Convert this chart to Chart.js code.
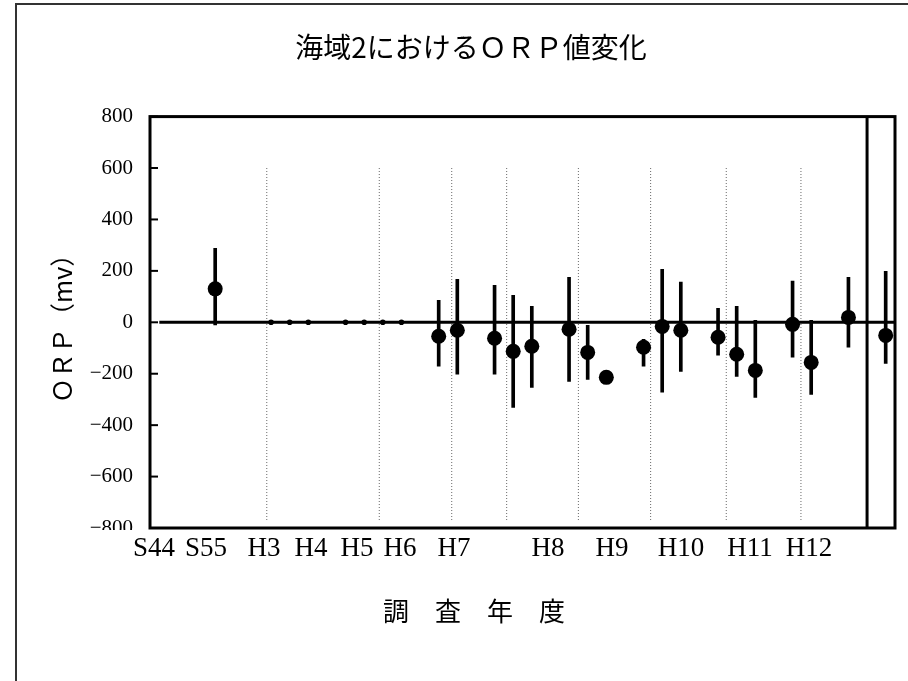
<!DOCTYPE html>
<html>
<head>
<meta charset="utf-8">
<script src="https://cdn.jsdelivr.net/npm/chart.js@4/dist/chart.umd.min.js"></script>
<style>
  html, body { margin: 0; padding: 0; background: #fff; width: 908px; height: 681px; overflow: hidden; }
  #frame { position: absolute; left: 15px; top: 3px; width: 1000px; height: 1000px;
           border-left: 2px solid #333; border-top: 2px solid #333; }
  #c { position: absolute; left: 47px; top: 5px; display: block; }
</style>
</head>
<body>
<div id="frame"></div>
<canvas id="c" width="861" height="676"></canvas>
<script>
// Survey slot (x index) of each measurement, its mean ORP and the ends of its range (mV)
const slots   = [3, 15, 16, 18, 19, 20, 22, 23, 24, 26, 27, 28, 30, 31, 32, 34, 35, 37, 39];
const orpMean = [130, -54, -31, -62, -113, -93, -27, -117, -214, -97, -16, -31, -58, -124, -187, -8, -156, 19, -51];
const orpHigh = [288, 85, 167, 144, 105, 62, 175, -12, null, -66, 206, 156, 54, 62, 8, 160, 8, 175, 198];
const orpLow  = [-10, -171, -202, -202, -331, -253, -230, -222, null, -171, -272, -191, -128, -210, -292, -136, -280, -97, -160];

// Slots without a measured range, marked at zero
const zeroSlots  = [6, 7, 8, 10, 11, 12, 13];
const zeroValues = [0, 0, 0, 0, 0, 0, 0];

// Dividers between survey years and the closing divider
const yearBreaks = [5.77, 11.81, 15.7, 18.65, 22.5, 26.38, 30.44, 34.45];
const breakTop = 600, breakBottom = -770;
const closingSlot = 38;

// Year labels along the bottom and where each one sits
const yearLabels = ['S44', 'S55', 'H3', 'H4', 'H5', 'H6', 'H7', 'H8', 'H9', 'H10', 'H11', 'H12'];
const yearLabelAt = [-0.29, 2.51, 5.62, 8.14, 10.61, 12.92, 15.82, 20.87, 24.31, 28.01, 31.71, 34.88];

// Value axis ticks
const yTicks = [-800, -600, -400, -200, 0, 200, 400, 600, 800];

const serif = '"Liberation Serif", "Times New Roman", serif';
const gothic = '"Noto Sans CJK JP", "Noto Sans", sans-serif';

// Box around the plot, inward tick marks and the axis caption
const plotFrame = {
  id: 'plotFrame',
  beforeDatasetsDraw(chart) {
    const { ctx, chartArea: a, scales: { y } } = chart;
    ctx.save();
    ctx.strokeStyle = '#000';
    ctx.lineWidth = 3;
    ctx.strokeRect(a.left, a.top, a.right - a.left, a.bottom - a.top);
    ctx.lineWidth = 2;
    y.ticks.forEach(t => {
      const py = y.getPixelForValue(t.value);
      ctx.beginPath();
      ctx.moveTo(a.left, py);
      ctx.lineTo(a.left + 8, py);
      ctx.stroke();
    });
    ctx.restore();
  },
  afterDraw(chart) {
    const { ctx, chartArea: a } = chart;
    ctx.save();
    // the lowest value label sits under the axis caption band
    ctx.fillStyle = '#fff';
    ctx.fillRect(a.left - 60, a.bottom + 2, 42, 10);
    ctx.fillStyle = '#000';
    ctx.font = '26px ' + gothic;
    ctx.textAlign = 'center';
    ctx.textBaseline = 'middle';
    ctx.fillText('調　査　年　度', 427, 606);
    ctx.restore();
  }
};

new Chart(document.getElementById('c'), {
  type: 'scatter',
  data: {
    datasets: [
      {
        type: 'line',
        data: yearBreaks.flatMap(x => [{ x, y: breakTop }, { x, y: breakBottom }, { x, y: null }]),
        borderColor: '#666',
        borderWidth: 1,
        borderDash: [1, 2],
        pointRadius: 0,
        spanGaps: false,
        order: 6
      },
      {
        type: 'line',
        data: [{ x: closingSlot, y: 800 }, { x: closingSlot, y: -800 }],
        borderColor: '#000',
        borderWidth: 3,
        pointRadius: 0,
        order: 5
      },
      {
        type: 'line',
        data: [{ x: 0, y: 0 }, { x: 39.5, y: 0 }],
        borderColor: '#000',
        borderWidth: 3,
        pointRadius: 0,
        order: 4
      },
      {
        type: 'bar',
        data: slots.map((x, i) => ({ x, y: orpHigh[i] == null ? null : [orpLow[i], orpHigh[i]] })),
        backgroundColor: '#000',
        borderWidth: 0,
        barThickness: 3,
        order: 3
      },
      {
        type: 'scatter',
        data: zeroSlots.map((x, i) => ({ x, y: zeroValues[i] })),
        pointRadius: 2.8,
        pointBackgroundColor: '#000',
        pointBorderWidth: 0,
        order: 2
      },
      {
        type: 'scatter',
        data: slots.map((x, i) => ({ x, y: orpMean[i] })),
        pointRadius: 7.5,
        pointBackgroundColor: '#000',
        pointBorderWidth: 0,
        order: 1
      }
    ]
  },
  options: {
    responsive: false,
    animation: false,
    events: [],
    layout: { padding: { left: 0, right: 13, top: 0, bottom: 53 } },
    plugins: {
      legend: { display: false },
      tooltip: { enabled: false },
      title: {
        display: true,
        text: '海域2におけるＯＲＰ値変化',
        color: '#000',
        font: { family: gothic, size: 28, weight: 'normal' },
        padding: { top: 26, bottom: 52 }
      }
    },
    scales: {
      x: {
        type: 'linear',
        min: -0.5,
        max: 39.5,
        offset: false,
        grid: { display: false, drawTicks: false },
        border: { display: false },
        afterBuildTicks: s => { s.ticks = yearLabelAt.map(v => ({ value: v })); },
        afterFit: s => { s.height = 100; },
        ticks: {
          autoSkip: false,
          maxRotation: 0,
          minRotation: 0,
          padding: 5,
          color: '#000',
          font: { family: serif, size: 27 },
          callback: (v, i) => yearLabels[i]
        }
      },
      y: {
        type: 'linear',
        min: -800,
        max: 800,
        grid: { display: false, drawTicks: false },
        border: { display: false },
        afterBuildTicks: s => { s.ticks = yTicks.map(v => ({ value: v })); },
        afterFit: s => { s.width = 103; },
        ticks: {
          padding: 17,
          color: '#000',
          font: { family: serif, size: 21 },
          callback: v => (v < 0 ? '\u2212' + Math.abs(v) : String(v))
        },
        title: {
          display: true,
          text: 'ＯＲＰ（mv）',
          color: '#000',
          font: { family: gothic, size: 25 },
          padding: { top: 0, bottom: 0 }
        }
      }
    }
  },
  plugins: [plotFrame]
});
</script>
</body>
</html>
